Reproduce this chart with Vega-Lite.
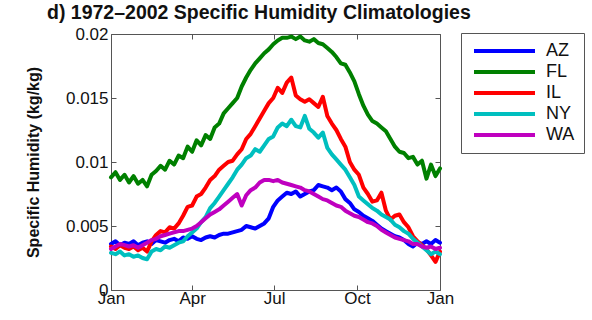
{
  "$schema": "https://vega.github.io/schema/vega-lite/v6.json",
  "autosize": {"type": "none"},
  "width": 329,
  "height": 256,
  "padding": {"left": 111, "top": 34, "right": 152, "bottom": 30},
  "background": "white",
  "title": {
    "text": "d) 1972–2002 Specific Humidity Climatologies",
    "anchor": "start",
    "frame": "group",
    "dx": -64,
    "offset": 2,
    "font": "Liberation Sans",
    "fontSize": 19.5,
    "fontWeight": "bold",
    "color": "#111"
  },
  "config": {
    "view": {"stroke": "#555", "strokeWidth": 1},
    "font": "Liberation Sans"
  },
  "data": {
    "values": [
      {"d": 0, "AZ": 0.0036, "FL": 0.0088, "IL": 0.0034, "NY": 0.0029, "WA": 0.0032},
      {"d": 5, "AZ": 0.0038, "FL": 0.0092, "IL": 0.0032, "NY": 0.0028, "WA": 0.0034},
      {"d": 10, "AZ": 0.0035, "FL": 0.0086, "IL": 0.0035, "NY": 0.0030, "WA": 0.0036},
      {"d": 15, "AZ": 0.0037, "FL": 0.0090, "IL": 0.0033, "NY": 0.0027, "WA": 0.0035},
      {"d": 20, "AZ": 0.0036, "FL": 0.0084, "IL": 0.0032, "NY": 0.0028, "WA": 0.0034},
      {"d": 25, "AZ": 0.0038, "FL": 0.0089, "IL": 0.0034, "NY": 0.0026, "WA": 0.0035},
      {"d": 30, "AZ": 0.0035, "FL": 0.0083, "IL": 0.0031, "NY": 0.0027, "WA": 0.0033},
      {"d": 35, "AZ": 0.0037, "FL": 0.0086, "IL": 0.0033, "NY": 0.0025, "WA": 0.0035},
      {"d": 40, "AZ": 0.0038, "FL": 0.0081, "IL": 0.0030, "NY": 0.0024, "WA": 0.0037},
      {"d": 45, "AZ": 0.0036, "FL": 0.0090, "IL": 0.0038, "NY": 0.0030, "WA": 0.0039},
      {"d": 50, "AZ": 0.0039, "FL": 0.0093, "IL": 0.0043, "NY": 0.0032, "WA": 0.0040},
      {"d": 55, "AZ": 0.0038, "FL": 0.0097, "IL": 0.0046, "NY": 0.0031, "WA": 0.0042},
      {"d": 60, "AZ": 0.0037, "FL": 0.0094, "IL": 0.0045, "NY": 0.0034, "WA": 0.0043},
      {"d": 65, "AZ": 0.0039, "FL": 0.0101, "IL": 0.0049, "NY": 0.0033, "WA": 0.0044},
      {"d": 70, "AZ": 0.0040, "FL": 0.0098, "IL": 0.0048, "NY": 0.0035, "WA": 0.0045},
      {"d": 75, "AZ": 0.0038, "FL": 0.0105, "IL": 0.0052, "NY": 0.0037, "WA": 0.0046},
      {"d": 80, "AZ": 0.0041, "FL": 0.0103, "IL": 0.0058, "NY": 0.0038, "WA": 0.0046},
      {"d": 85, "AZ": 0.0040, "FL": 0.0112, "IL": 0.0065, "NY": 0.0042, "WA": 0.0047},
      {"d": 90, "AZ": 0.0042, "FL": 0.0108, "IL": 0.0066, "NY": 0.0045, "WA": 0.0048},
      {"d": 95, "AZ": 0.0040, "FL": 0.0117, "IL": 0.0073, "NY": 0.0048, "WA": 0.0050},
      {"d": 100, "AZ": 0.0039, "FL": 0.0113, "IL": 0.0075, "NY": 0.0053, "WA": 0.0053},
      {"d": 105, "AZ": 0.0041, "FL": 0.0121, "IL": 0.0080, "NY": 0.0057, "WA": 0.0056},
      {"d": 110, "AZ": 0.0042, "FL": 0.0118, "IL": 0.0086, "NY": 0.0064, "WA": 0.0059},
      {"d": 115, "AZ": 0.0041, "FL": 0.0127, "IL": 0.0089, "NY": 0.0068, "WA": 0.0061},
      {"d": 120, "AZ": 0.0043, "FL": 0.0130, "IL": 0.0094, "NY": 0.0073, "WA": 0.0063},
      {"d": 125, "AZ": 0.0044, "FL": 0.0138, "IL": 0.0097, "NY": 0.0078, "WA": 0.0066},
      {"d": 130, "AZ": 0.0044, "FL": 0.0142, "IL": 0.0100, "NY": 0.0083, "WA": 0.0069},
      {"d": 135, "AZ": 0.0045, "FL": 0.0146, "IL": 0.0101, "NY": 0.0088, "WA": 0.0072},
      {"d": 140, "AZ": 0.0046, "FL": 0.0150, "IL": 0.0106, "NY": 0.0094, "WA": 0.0075},
      {"d": 145, "AZ": 0.0047, "FL": 0.0159, "IL": 0.0110, "NY": 0.0098, "WA": 0.0066},
      {"d": 150, "AZ": 0.0050, "FL": 0.0166, "IL": 0.0118, "NY": 0.0103, "WA": 0.0074},
      {"d": 155, "AZ": 0.0049, "FL": 0.0172, "IL": 0.0122, "NY": 0.0105, "WA": 0.0078},
      {"d": 160, "AZ": 0.0048, "FL": 0.0177, "IL": 0.0128, "NY": 0.0110, "WA": 0.0080},
      {"d": 165, "AZ": 0.0050, "FL": 0.0181, "IL": 0.0134, "NY": 0.0108, "WA": 0.0084},
      {"d": 170, "AZ": 0.0052, "FL": 0.0185, "IL": 0.0140, "NY": 0.0113, "WA": 0.0086},
      {"d": 175, "AZ": 0.0056, "FL": 0.0188, "IL": 0.0146, "NY": 0.0118, "WA": 0.0086},
      {"d": 180, "AZ": 0.0065, "FL": 0.0192, "IL": 0.0150, "NY": 0.0120, "WA": 0.0085},
      {"d": 185, "AZ": 0.0070, "FL": 0.0195, "IL": 0.0158, "NY": 0.0127, "WA": 0.0086},
      {"d": 190, "AZ": 0.0073, "FL": 0.0197, "IL": 0.0154, "NY": 0.0130, "WA": 0.0084},
      {"d": 195, "AZ": 0.0076, "FL": 0.0197, "IL": 0.0162, "NY": 0.0128, "WA": 0.0083},
      {"d": 200, "AZ": 0.0075, "FL": 0.0198, "IL": 0.0166, "NY": 0.0133, "WA": 0.0082},
      {"d": 205, "AZ": 0.0077, "FL": 0.0196, "IL": 0.0152, "NY": 0.0128, "WA": 0.0081},
      {"d": 210, "AZ": 0.0073, "FL": 0.0198, "IL": 0.0149, "NY": 0.0127, "WA": 0.0080},
      {"d": 215, "AZ": 0.0075, "FL": 0.0195, "IL": 0.0147, "NY": 0.0136, "WA": 0.0078},
      {"d": 220, "AZ": 0.0077, "FL": 0.0194, "IL": 0.0149, "NY": 0.0126, "WA": 0.0077},
      {"d": 225, "AZ": 0.0078, "FL": 0.0196, "IL": 0.0146, "NY": 0.0123, "WA": 0.0075},
      {"d": 230, "AZ": 0.0082, "FL": 0.0193, "IL": 0.0143, "NY": 0.0119, "WA": 0.0073},
      {"d": 235, "AZ": 0.0081, "FL": 0.0192, "IL": 0.0151, "NY": 0.0123, "WA": 0.0071},
      {"d": 240, "AZ": 0.0080, "FL": 0.0189, "IL": 0.0136, "NY": 0.0111, "WA": 0.0070},
      {"d": 245, "AZ": 0.0078, "FL": 0.0186, "IL": 0.0130, "NY": 0.0106, "WA": 0.0068},
      {"d": 250, "AZ": 0.0080, "FL": 0.0182, "IL": 0.0125, "NY": 0.0102, "WA": 0.0066},
      {"d": 255, "AZ": 0.0077, "FL": 0.0177, "IL": 0.0118, "NY": 0.0098, "WA": 0.0065},
      {"d": 260, "AZ": 0.0071, "FL": 0.0176, "IL": 0.0112, "NY": 0.0094, "WA": 0.0062},
      {"d": 265, "AZ": 0.0068, "FL": 0.0170, "IL": 0.0100, "NY": 0.0088, "WA": 0.0060},
      {"d": 270, "AZ": 0.0063, "FL": 0.0163, "IL": 0.0094, "NY": 0.0082, "WA": 0.0058},
      {"d": 275, "AZ": 0.0061, "FL": 0.0153, "IL": 0.0090, "NY": 0.0073, "WA": 0.0057},
      {"d": 280, "AZ": 0.0058, "FL": 0.0144, "IL": 0.0080, "NY": 0.0070, "WA": 0.0055},
      {"d": 285, "AZ": 0.0056, "FL": 0.0137, "IL": 0.0075, "NY": 0.0067, "WA": 0.0053},
      {"d": 290, "AZ": 0.0054, "FL": 0.0132, "IL": 0.0069, "NY": 0.0064, "WA": 0.0052},
      {"d": 295, "AZ": 0.0051, "FL": 0.0130, "IL": 0.0070, "NY": 0.0062, "WA": 0.0050},
      {"d": 300, "AZ": 0.0048, "FL": 0.0127, "IL": 0.0076, "NY": 0.0059, "WA": 0.0047},
      {"d": 305, "AZ": 0.0046, "FL": 0.0124, "IL": 0.0062, "NY": 0.0057, "WA": 0.0045},
      {"d": 310, "AZ": 0.0044, "FL": 0.0118, "IL": 0.0055, "NY": 0.0055, "WA": 0.0043},
      {"d": 315, "AZ": 0.0042, "FL": 0.0112, "IL": 0.0058, "NY": 0.0051, "WA": 0.0041},
      {"d": 320, "AZ": 0.0041, "FL": 0.0108, "IL": 0.0059, "NY": 0.0049, "WA": 0.0040},
      {"d": 325, "AZ": 0.0039, "FL": 0.0107, "IL": 0.0053, "NY": 0.0046, "WA": 0.0039},
      {"d": 330, "AZ": 0.0036, "FL": 0.0103, "IL": 0.0049, "NY": 0.0044, "WA": 0.0038},
      {"d": 335, "AZ": 0.0034, "FL": 0.0104, "IL": 0.0042, "NY": 0.0040, "WA": 0.0036},
      {"d": 340, "AZ": 0.0037, "FL": 0.0098, "IL": 0.0038, "NY": 0.0037, "WA": 0.0036},
      {"d": 345, "AZ": 0.0036, "FL": 0.0101, "IL": 0.0035, "NY": 0.0034, "WA": 0.0034},
      {"d": 350, "AZ": 0.0038, "FL": 0.0087, "IL": 0.0032, "NY": 0.0031, "WA": 0.0033},
      {"d": 355, "AZ": 0.0036, "FL": 0.0098, "IL": 0.0027, "NY": 0.0028, "WA": 0.0034},
      {"d": 360, "AZ": 0.0039, "FL": 0.0089, "IL": 0.0022, "NY": 0.0030, "WA": 0.0032},
      {"d": 365, "AZ": 0.0037, "FL": 0.0095, "IL": 0.0030, "NY": 0.0028, "WA": 0.0033}
    ]
  },
  "transform": [
    {"fold": ["AZ", "FL", "IL", "NY", "WA"], "as": ["state", "q"]}
  ],
  "layer": [
    {
      "mark": {"type": "line", "strokeWidth": 4, "strokeJoin": "round", "strokeCap": "round"},
      "encoding": {
        "x": {
          "field": "d",
          "type": "quantitative",
          "scale": {"domain": [0, 365], "nice": false, "zero": false},
          "axis": {
            "orient": "bottom",
            "title": null,
            "values": [0, 90, 181, 273, 365],
            "labelExpr": "datum.value == 90 ? 'Apr' : datum.value == 181 ? 'Jul' : datum.value == 273 ? 'Oct' : 'Jan'",
            "labelFont": "Liberation Sans",
            "labelFontSize": 17,
            "labelColor": "#111",
            "labelFlush": false,
            "labelOverlap": false,
            "labelPadding": 5,
            "tickSize": -5,
            "tickColor": "#555",
            "domain": false,
            "grid": false
          }
        },
        "y": {
          "field": "q",
          "type": "quantitative",
          "scale": {"domain": [0, 0.02], "nice": false},
          "axis": {
            "orient": "left",
            "title": "Specific Humidity (kg/kg)",
            "titleFont": "Liberation Sans",
            "titleFontSize": 16,
            "titleFontWeight": "bold",
            "titleColor": "#111",
            "titlePadding": 24,
            "values": [0, 0.005, 0.01, 0.015, 0.02],
            "format": "~g",
            "labelFont": "Liberation Sans",
            "labelFontSize": 17,
            "labelColor": "#111",
            "labelFlush": false,
            "labelOverlap": false,
            "labelPadding": 8,
            "tickSize": -5,
            "tickColor": "#555",
            "domain": false,
            "grid": false
          }
        },
        "color": {
          "field": "state",
          "type": "nominal",
          "scale": {
            "domain": ["AZ", "FL", "IL", "NY", "WA"],
            "range": ["#0000ff", "#008000", "#ff0000", "#00bfbf", "#bf00bf"]
          },
          "legend": {
            "title": null,
            "orient": "none",
            "legendX": 350,
            "legendY": -1,
            "symbolType": "M-1,0H11.2",
            "symbolSize": 100,
            "symbolStrokeWidth": 4,
            "labelFont": "Liberation Sans",
            "labelFontSize": 18,
            "labelColor": "#111",
            "labelOffset": 58,
            "rowPadding": 3,
            "padding": 9,
            "strokeColor": "#555",
            "fillColor": "white"
          }
        }
      }
    },
    {
      "mark": {"type": "line", "strokeOpacity": 0},
      "encoding": {
        "x": {
          "field": "d",
          "type": "quantitative",
          "axis": {
            "orient": "top",
            "title": null,
            "values": [0, 90, 181, 273, 365],
            "labels": false,
            "tickSize": -5,
            "tickColor": "#555",
            "domain": false,
            "grid": false
          }
        },
        "y": {
          "field": "q",
          "type": "quantitative",
          "axis": {
            "orient": "right",
            "title": null,
            "values": [0, 0.005, 0.01, 0.015, 0.02],
            "labels": false,
            "tickSize": -5,
            "tickColor": "#555",
            "domain": false,
            "grid": false
          }
        },
        "detail": {"field": "state", "type": "nominal"}
      }
    }
  ],
  "resolve": {"axis": {"x": "independent", "y": "independent"}}
}
